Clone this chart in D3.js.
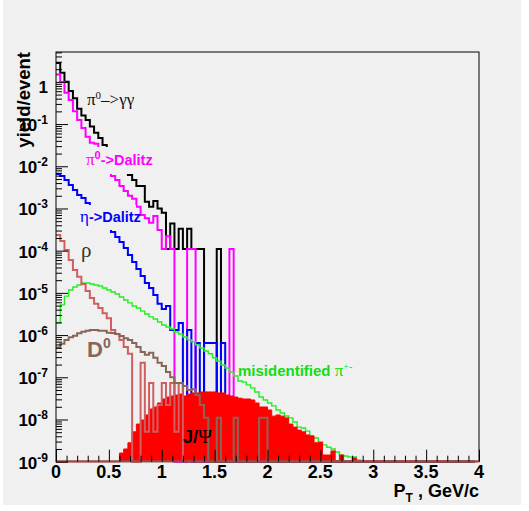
<!DOCTYPE html>
<html>
<head>
<meta charset="utf-8">
<script src="https://cdn.jsdelivr.net/npm/d3@7"></script>
<style>
 body { margin:0; background:#fff; }
 svg { display:block; }
</style>
</head>
<body>
<div class="svgcontainer"></div>
<script>
// pt bins: 100 bins of 0.04 GeV/c from 0 to 4
const nBins = 100;
const binWidth = 0.04;

// yields per event, bin 0 first (missing trailing bins are empty)
const pi0gg = [2.8,1.65,1.0,0.61,0.41,0.23,0.16,0.125,0.087,0.062,0.047,0.032,
  0.024,0.0175,0.0134,0.010,0.0077,0.0062,0.0047,0.0034,0.0034,0.00145,0.0011,0.0015,0.001,
  7.9e-4,1.1e-4,4.4e-4,1.1e-4,3.3e-4,1.1e-4,3.3e-4,1.1e-4,1.1e-4,1.1e-4,0,0,0,1.1e-4];
const pi0dalitz = [1.5,0.99,0.55,0.37,0.2,0.125,0.081,0.05,0.036,0.034,0.023,0.0166,0.0113,
  0.0059,0.0047,0.0034,0.0026,0.002,0.0017,0.0011,7.0e-4,5.9e-4,4.6e-4,6.6e-4,3.1e-4,
  1.1e-4,2.2e-4,1.1e-4,0,0,0,1.1e-4,1.1e-4,0,0,0,0,0,0,0,0,1.1e-4];
const etaDalitz = [6.6e-3,5.9e-3,4.7e-3,3.6e-3,2.75e-3,2.1e-3,1.77e-3,1.35e-3,1.09e-3,8.3e-4,
  6.3e-4,4.8e-4,3.65e-4,2.78e-4,2.1e-4,1.6e-4,1.16e-4,7.9e-5,5.4e-5,3.7e-5,2.5e-5,1.72e-5,
  1.3e-5,8.9e-6,5.5e-6,4.15e-6,4.9e-6,1.32e-6,1.32e-6,1.94e-6,0,1.32e-6,0,6.5e-7,0,
  6.5e-7,6.5e-7,6.5e-7,0,6.5e-7];
const misidPi = [1.94e-6,5.2e-6,8.4e-6,1.17e-5,1.38e-5,1.54e-5,1.72e-5,1.72e-5,1.62e-5,1.54e-5,
  1.46e-5,1.3e-5,1.17e-5,1.05e-5,9.4e-6,8.0e-6,6.8e-6,5.8e-6,4.9e-6,4.4e-6,3.7e-6,3.16e-6,
  2.7e-6,2.4e-6,2.04e-6,1.74e-6,1.56e-6,1.39e-6,1.18e-6,1.06e-6,9.0e-7,7.7e-7,6.9e-7,5.8e-7,
  4.95e-7,4.2e-7,3.6e-7,2.9e-7,2.4e-7,1.96e-7,1.66e-7,1.34e-7,1.07e-7,8.2e-8,7.7e-8,6.6e-8,
  5.6e-8,4.5e-8,3.4e-8,2.9e-8,2.46e-8,2.1e-8,1.68e-8,1.43e-8,1.21e-8,1.09e-8,8.7e-9,6.6e-9,
  6.3e-9,5.3e-9,3.85e-9,3.65e-9,2.9e-9,2.5e-9,2.2e-9,2.0e-9,1.7e-9,1.44e-9,1.36e-9,1.29e-9,
  1.29e-9,1.1e-9];
const rho = [2.36e-4,1.7e-4,1.04e-4,6.0e-5,3.5e-5,2.4e-5,1.62e-5,1.11e-5,7.6e-6,5.5e-6,4.4e-6,
  3.3e-6,2.5e-6,1.32e-6,1.06e-6,7.7e-7,5.2e-7,3.6e-7,0,0,2.2e-7,5.1e-9,7.3e-8,5.1e-9,2.2e-8,
  7.3e-8,2.2e-8,7.3e-8,5.1e-9,7.3e-8];
const d0 = [5.1e-7,6.2e-7,7.7e-7,8.9e-7,9.7e-7,1.1e-6,1.2e-6,1.27e-6,1.32e-6,1.32e-6,1.27e-6,
  1.27e-6,1.14e-6,1.12e-6,1.06e-6,9.5e-7,8.4e-7,7.7e-7,6.5e-7,5.2e-7,4.0e-7,3.4e-7,3.8e-7,
  2.9e-7,2.2e-7,1.85e-7,1.34e-7,1.0e-7,7.3e-8,7.3e-8,6.2e-8,5.0e-8,5.2e-8,3.8e-8,2.2e-8,
  1.1e-8,0,0,1.1e-8,0,0,0,1.1e-8,0,0,0,0,0,1.1e-8,1.1e-8];
const jpsi = [0,0,0,0,0,0,0,0,0,0,0,0,0,0,0,1.6e-9,2.0e-9,2.8e-9,5.1e-9,7.8e-9,9.7e-9,1.28e-8,
  1.77e-8,1.98e-8,2.46e-8,3.06e-8,3.4e-8,3.6e-8,3.8e-8,4.0e-8,3.6e-8,4.0e-8,4.25e-8,4.25e-8,
  4.5e-8,4.5e-8,4.5e-8,4.5e-8,4.25e-8,4.25e-8,3.8e-8,3.6e-8,3.4e-8,3.2e-8,3.06e-8,3.06e-8,
  2.9e-8,2.46e-8,1.98e-8,1.98e-8,1.68e-8,1.2e-8,1.28e-8,1.2e-8,1.09e-8,7.8e-9,6.6e-9,5.6e-9,
  5.1e-9,4.3e-9,4.1e-9,2.8e-9,2.9e-9,1.44e-9,1.44e-9,1.8e-9,0,1.44e-9,0,0,1.22e-9];

const xTickLabels = ["0","0.5","1","1.5","2","2.5","3","3.5","4"];
const yDecades = [0,-1,-2,-3,-4,-5,-6,-7,-8,-9];

const W = 529, H = 511;
const bg = "#f0f0f0";
const yMin = 1e-9, yMax = 5.1;

const svg = d3.select(".svgcontainer").append("svg")
    .attr("width", W).attr("height", H);

svg.append("rect").attr("x",3).attr("y",0).attr("width",W-11).attr("height",H-6).attr("fill",bg);

const x = d3.scaleLinear().domain([0,4]).range([56,479]);
const y = d3.scaleLog().domain([yMin,yMax]).range([461.7,52]);

const plot = svg.append("g");

function drawHist(vals, color, opts) {
    opts = opts || {};
    const pts = d3.range(nBins).map(i => [i*binWidth, vals[i] || 0]);
    pts.push([nBins*binWidth, 0]);
    const line = d3.line()
        .x(d => x(d[0]))
        .y(d => y(Math.max(d[1], yMin)))
        .curve(d3.curveStepAfter);
    if (opts.fill) {
        const area = d3.area()
            .x(d => x(d[0]))
            .y0(y(yMin))
            .y1(d => y(Math.max(d[1], yMin)))
            .curve(d3.curveStepAfter);
        plot.append("path").attr("d", area(pts)).attr("fill", opts.fill);
    }
    plot.append("path")
        .attr("d", line(pts.slice(0, nBins)))
        .attr("fill","none")
        .attr("stroke", color)
        .attr("stroke-width", opts.width || 2);
}

drawHist(pi0gg, "#000000");
drawHist(pi0dalitz, "#ff00ff");
drawHist(etaDalitz, "#0000ff");
drawHist(misidPi, "#22ee22", {width:1.4});
drawHist(jpsi, "#ff0000", {fill:"#ff0000", width:1});
drawHist(rho, "#cf5e61");
drawHist(d0, "#876657");

// text boxes covering the curves (filled like the pad)
const boxes = [[84,147,154,174],[78,205,136,230]];
boxes.forEach(b => svg.append("rect").attr("x",b[0]).attr("y",b[1])
    .attr("width",b[2]-b[0]).attr("height",b[3]-b[1]).attr("fill",bg));

// frame
svg.append("rect").attr("x",56).attr("y",52).attr("width",423).attr("height",409.7)
    .attr("fill","none").attr("stroke","#000").attr("stroke-width",1);
svg.append("line").attr("x1",56).attr("x2",479).attr("y1",461.2).attr("y2",461.2)
    .attr("stroke","#a04848").attr("stroke-width",2);

// axes ticks
const yMinor = [];
for (let e = -9; e <= 0; e++) for (let m = 2; m <= 9; m++) if (m*Math.pow(10,e) < yMax) yMinor.push(m*Math.pow(10,e));
const yMajor = yDecades.map(e => Math.pow(10,e));
svg.append("g").attr("transform","translate(56,0)")
   .call(d3.axisRight(y).tickValues(yMajor).tickSize(12).tickFormat(""))
   .call(g => g.select(".domain").remove());
svg.append("g").attr("transform","translate(56,0)")
   .call(d3.axisRight(y).tickValues(yMinor).tickSize(6).tickFormat(""))
   .call(g => g.select(".domain").remove());
svg.append("g").attr("transform","translate(0,461.7)")
   .call(d3.axisTop(x).tickValues(xTickLabels.map(Number)).tickSize(12).tickFormat(""))
   .call(g => g.select(".domain").remove());
svg.append("g").attr("transform","translate(0,461.7)")
   .call(d3.axisTop(x).tickValues(d3.range(0,41).map(i => i/10).filter(v => Math.round(v*10)%5)).tickSize(6).tickFormat(""))
   .call(g => g.select(".domain").remove());
svg.selectAll(".tick line").attr("stroke","#000").attr("stroke-width",1);

const sans = "'Liberation Sans', Arial, Helvetica, sans-serif";
const serif = "'Liberation Serif', 'Times New Roman', serif";

// y tick labels
yDecades.forEach(e => {
    const t = svg.append("text").attr("x",48).attr("font-family",sans)
        .attr("font-weight","bold").attr("text-anchor","end").attr("fill","#000");
    if (e === 0) {
        t.attr("y", y(1)+11).attr("font-size",17).text("1");
    } else {
        t.attr("y", y(Math.pow(10,e))+7).attr("font-size",17);
        t.append("tspan").text("10");
        t.append("tspan").attr("font-size",12).attr("dy",-7).text(String(e));
    }
});
// x tick labels
xTickLabels.forEach(s => {
    svg.append("text").attr("x", x(+s)).attr("y",478).attr("font-family",sans)
       .attr("font-weight","bold").attr("font-size",18).attr("text-anchor","middle").text(s);
});

// axis titles
svg.append("text").attr("transform","translate(30,52) rotate(-90)")
   .attr("font-family",sans).attr("font-weight","bold").attr("font-size",18.5)
   .attr("text-anchor","end").text("yield/event");
const xt = svg.append("text").attr("x",479).attr("y",497).attr("font-family",sans)
   .attr("font-weight","bold").attr("font-size",18).attr("text-anchor","end");
xt.append("tspan").text("P");
xt.append("tspan").attr("font-size",12).attr("dy",5).text("T");
xt.append("tspan").attr("dy",-5).text(" , GeV/c");

// curve labels
function label(xp, yp, parts, color) {
    const t = svg.append("text").attr("x",xp).attr("y",yp).attr("fill",color);
    parts.forEach(p => {
        const s = t.append("tspan").text(p.t)
            .attr("font-family", p.serif ? serif : sans)
            .attr("font-weight", p.bold ? "bold" : "normal")
            .attr("font-size", p.size);
        if (p.dy) s.attr("dy", p.dy);
    });
}
label(87,105,[{t:"π",serif:1,size:17},{t:"0",serif:1,size:11,dy:-6},{t:"–>γγ",serif:1,size:17,dy:6}],"#111");
label(86,165,[{t:"π",serif:1,size:17},{t:"0",bold:1,size:11,dy:-6},{t:"->Dalitz",bold:1,size:14.5,dy:6}],"#ff00ff");
label(80,222,[{t:"η",serif:1,size:17},{t:"->Dalitz",bold:1,size:14.5}],"#0000ff");
label(81,257,[{t:"ρ",serif:1,size:21}],"#333");
label(87,357,[{t:"D",bold:1,size:22},{t:"0",bold:1,size:14,dy:-9}],"#876657");
label(238,376,[{t:"misidentified ",bold:1,size:15},{t:"π",serif:1,size:17},{t:"+-",serif:1,size:10,dy:-6}],"#11dd11");
label(183,443,[{t:"J/",bold:1,size:18},{t:"Ψ",serif:1,size:19}],"#000");
</script>
</body>
</html>
